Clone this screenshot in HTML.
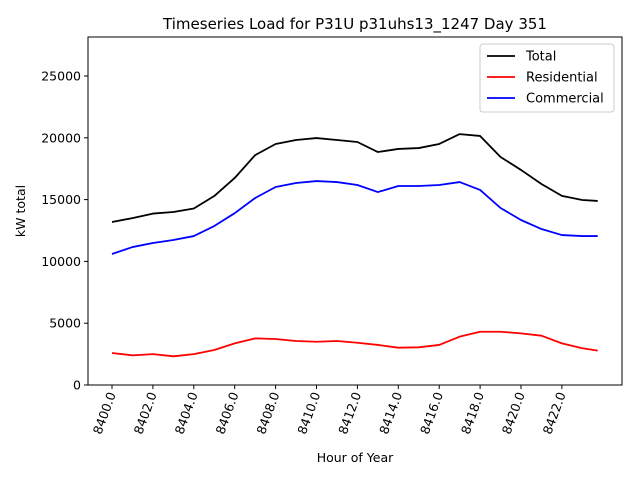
<!DOCTYPE html>
<html><head><meta charset="utf-8"><style>
body{margin:0;background:#fff;font-family:"DejaVu Sans","Liberation Sans",sans-serif}
text{font-family:"DejaVu Sans","Liberation Sans",sans-serif}
</style></head><body>
<svg id="chart" width="640" height="480" xmlns="http://www.w3.org/2000/svg">
<rect width="640" height="480" fill="#fff"/>
<g id="plot"></g>
</svg>
<script>
const hours=[0,1,2,3,4,5,6,7,8,9,10,11,12,13,14,15,16,17,18,19,20,21,22,23,23.75];
const totalLoad=[13190,13500,13870,14000,14280,15290,16750,18600,19500,19820,19980,19820,19660,18850,19100,19170,19500,20300,20150,18450,17400,16260,15300,14970,14890];
const residentialLoad=[2590,2400,2500,2320,2500,2830,3370,3770,3720,3560,3500,3560,3420,3240,3020,3050,3240,3910,4310,4310,4180,3990,3370,2970,2780];
const commercialLoad=[10600,11160,11490,11730,12050,12860,13900,15130,16020,16340,16500,16420,16180,15610,16100,16100,16180,16420,15780,14320,13350,12620,12130,12050,12050];
const xTicks=[8400,8402,8404,8406,8408,8410,8412,8414,8416,8418,8420,8422];
const yTicks=[0,5000,10000,15000,20000,25000];
const baseHour=8400;
const NS="http://www.w3.org/2000/svg";
const L=88,R=622,T=37,B=385;
function xs(h){return 112+(h-baseHour)*20.45;}
function ys(v){return 385-v*309/25000;}
const g=document.getElementById('plot');
function mk(tag,attrs){const e=document.createElementNS(NS,tag);for(const k in attrs)e.setAttribute(k,attrs[k]);g.appendChild(e);return e;}
const frame=mk('rect',{x:L,y:T,width:R-L,height:B-T,fill:'none',stroke:'#000','stroke-width':1});


yTicks.forEach(v=>{
 const y=ys(v);
 const t=mk('line',{x1:L-4,x2:L,y1:y,y2:y,stroke:'#000'});
 
 
 const tx=mk('text',{x:L-7,y:y+4.5,'text-anchor':'end','font-size':12.5});
 tx.textContent=v;
 
 
});
xTicks.forEach(v=>{
 const x=xs(v);
 const t=mk('line',{x1:x,x2:x,y1:B,y2:B+4,stroke:'#000'});
 
 
 const tx=mk('text',{x:0,y:0,'text-anchor':'end','font-size':12.5,transform:`translate(${x+4},${B+9}) rotate(-70)`});
 tx.textContent=v.toFixed(1);
 
 
});
function series(arr,color,name){
 const p=mk('polyline',{points:arr.map((v,i)=>xs(baseHour+hours[i])+','+ys(v)).join(' '),fill:'none',stroke:color,'stroke-width':1.8,'stroke-linejoin':'round'});
 
 
}
series(totalLoad,'#000','total-line');
series(residentialLoad,'#f00','residential-line');
series(commercialLoad,'#00f','commercial-line');
const title=mk('text',{x:355,y:29,'text-anchor':'middle','font-size':15});
title.textContent='Timeseries Load for P31U p31uhs13_1247  Day 351';


const xl=mk('text',{x:355,y:462,'text-anchor':'middle','font-size':12.5});
xl.textContent='Hour of Year';


const yl=mk('text',{x:0,y:0,'text-anchor':'middle','font-size':12.5,transform:'translate(25,211) rotate(-90)'});
yl.textContent='kW total';


const lb=mk('rect',{x:480,y:44,width:134,height:68,rx:3,fill:'#fff',stroke:'#ccc'});


[['Total','#000'],['Residential','#f00'],['Commercial','#00f']].forEach((e,i)=>{
 const y=56+i*21;
 const ln=mk('line',{x1:487,x2:515,y1:y,y2:y,stroke:e[1],'stroke-width':1.8});
 
 
 const tx=mk('text',{x:526,y:y+4.5,'font-size':13});
 tx.textContent=e[0];
 
 
});
</script>
</body></html>
